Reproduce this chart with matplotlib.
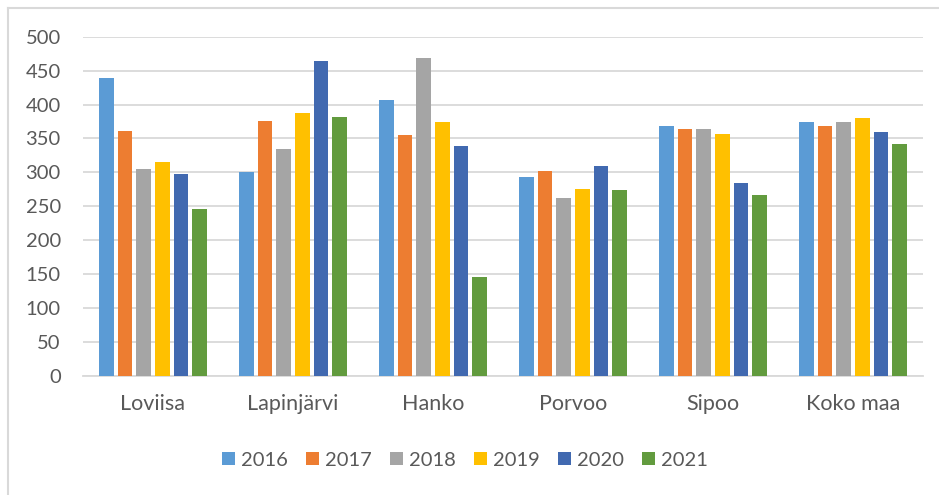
import matplotlib
matplotlib.use("Agg")
import matplotlib.pyplot as plt
import numpy as np
from matplotlib.lines import Line2D
from matplotlib.patches import Patch

categories = ["Loviisa", "Lapinjärvi", "Hanko", "Porvoo", "Sipoo", "Koko maa"]
years = ["2016", "2017", "2018", "2019", "2020", "2021"]
v2016 = [439, 301, 406, 293, 368, 375]
v2017 = [361, 376, 355, 302, 364, 368]
v2018 = [305, 334, 469, 263, 364, 375]
v2019 = [315, 387, 375, 275, 356, 380]
v2020 = [298, 464, 339, 309, 285, 359]
v2021 = [246, 382, 146, 274, 266, 342]
series = [v2016, v2017, v2018, v2019, v2020, v2021]
colors = ["#5B9BD5", "#ED7D31", "#A5A5A5", "#FFC000", "#4169B0", "#629B3E"]
yticks = [0, 50, 100, 150, 200, 250, 300, 350, 400, 450, 500]

plt.rcParams["font.family"] = ["Lato", "DejaVu Sans"]
W, H = 939, 495
fig = plt.figure(figsize=(W / 100, H / 100), dpi=100)
ax = fig.add_axes([83 / W, 1 - 376 / H, (923 - 83) / W, (376 - 36.7) / H])

x = np.arange(len(categories))
slot = 0.8 / len(series)
for i, (vals, c) in enumerate(zip(series, colors)):
    off = (i - (len(series) - 1) / 2) * slot
    ax.bar(x + off, vals, width=slot * 0.8, color=c, label=years[i], zorder=3)

ax.set_xlim(-0.5, len(categories) - 0.5)
ax.set_ylim(0, 500)
ax.set_yticks(yticks)
ax.set_yticklabels([str(t) for t in yticks])
ax.set_xticks(x)
ax.set_xticklabels(categories)
ax.grid(axis="y", color="#D9D9D9", linewidth=1.3, zorder=0)
for s in ["top", "right", "left"]:
    ax.spines[s].set_visible(False)
ax.spines["bottom"].set_color("#D9D9D9")
ax.spines["bottom"].set_linewidth(1.3)
ax.tick_params(axis="both", length=0, labelcolor="#595959")
ax.tick_params(axis="x", pad=13, labelsize=15.5)
ax.tick_params(axis="y", pad=16, labelsize=14.5)

handles = [Patch(facecolor=c, label=y) for c, y in zip(colors, years)]
fig.legend(handles=handles, loc="center", bbox_to_anchor=(465 / W, 1 - 460 / H),
           ncol=6, frameon=False, fontsize=14.5, labelcolor="#595959",
           handlelength=0.65, handleheight=0.65, handletextpad=0.3, columnspacing=0.9)

fig.add_artist(Line2D([7.5 / W, 7.5 / W], [0, 1 - 7.5 / H], transform=fig.transFigure,
                      color="#D9D9D9", linewidth=1.5))
fig.add_artist(Line2D([7.5 / W, 1], [1 - 7.5 / H, 1 - 7.5 / H], transform=fig.transFigure,
                      color="#D9D9D9", linewidth=1.5))

fig.savefig("out.png", dpi=100, facecolor="white")
